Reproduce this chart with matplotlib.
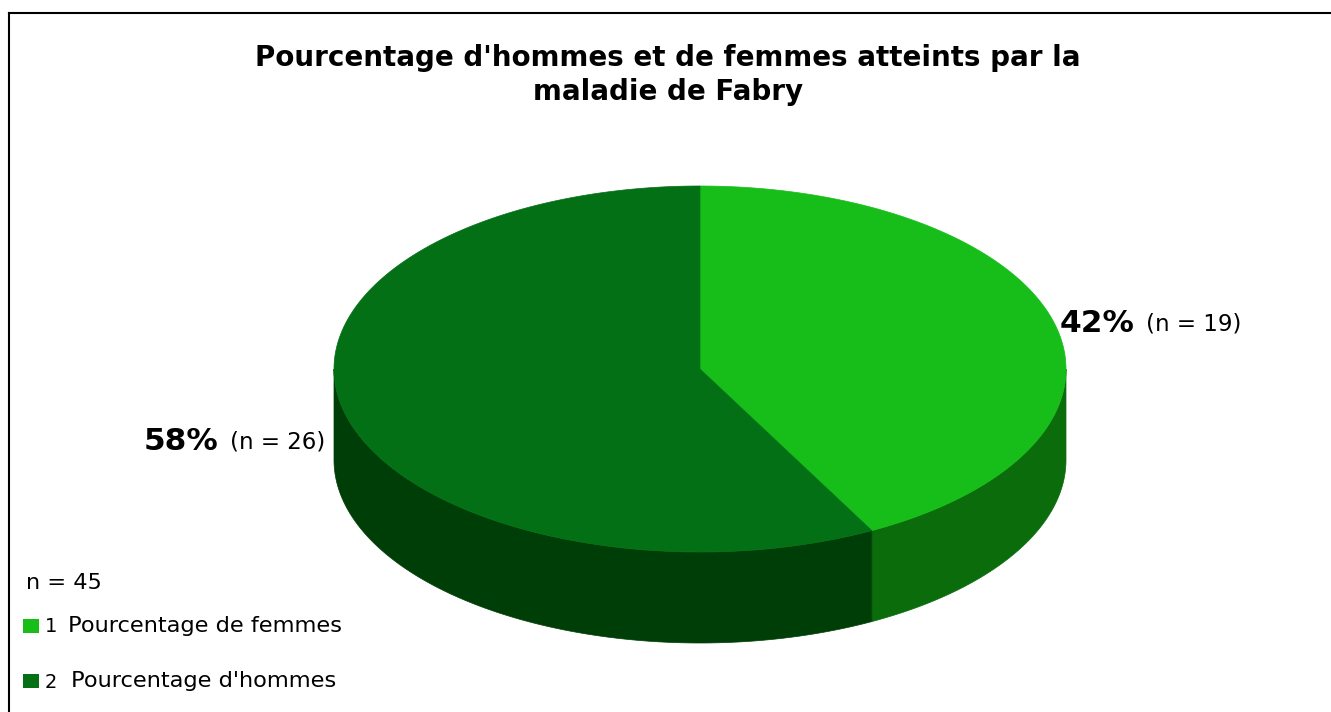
import numpy as np
import matplotlib.pyplot as plt
from matplotlib.patches import Polygon, Rectangle
from matplotlib.lines import Line2D

# Données
categories = ["Pourcentage de femmes", "Pourcentage d'hommes"]
counts = [19, 26]
total = sum(counts)
title = "Pourcentage d'hommes et de femmes atteints par la\nmaladie de Fabry"

top_colors = ["#17be1a", "#037016"]
side_colors = ["#0a6c0a", "#003e08"]

W, H = 1331, 712
fig = plt.figure(figsize=(W / 100, H / 100), dpi=100)
ax = fig.add_axes([0, 0, 1, 1])
ax.set_xlim(0, W)
ax.set_ylim(H, 0)
ax.axis('off')

# Géométrie du camembert 3D (en pixels)
cx, cy, rx, ry, depth = 700, 369, 366, 183, 91


def pt(theta, dy=0.0):
    # theta en degrés, sens horaire depuis midi
    t = np.radians(theta)
    return cx + rx * np.sin(t), cy - ry * np.cos(t) + dy


fracs = np.array(counts) / total
bounds = np.concatenate([[0], np.cumsum(fracs) * 360])

# Parois latérales (partie avant : 90° à 270°)
for i in range(len(counts)):
    a0, a1 = max(bounds[i], 90), min(bounds[i + 1], 270)
    if a1 <= a0:
        continue
    th = np.linspace(a0, a1, 200)
    upper = [pt(t) for t in th]
    lower = [pt(t, depth) for t in th[::-1]]
    ax.add_patch(Polygon(upper + lower, closed=True, facecolor=side_colors[i],
                         edgecolor=side_colors[i], lw=0.5))

# Dessus
for i in range(len(counts)):
    th = np.linspace(bounds[i], bounds[i + 1], 300)
    verts = [(cx, cy)] + [pt(t) for t in th]
    ax.add_patch(Polygon(verts, closed=True, facecolor=top_colors[i],
                         edgecolor=top_colors[i], lw=0.5))

# Étiquettes
fig.canvas.draw()
label_pos = [(1060, 323, 'left'), (218, 441, 'right')]
for i, (x, y, ha) in enumerate(label_pos):
    pct = f"{round(fracs[i] * 100):d}%"
    nstr = f"(n = {counts[i]})"
    if ha == 'left':
        t = ax.text(x, y, pct, fontsize=22.5, fontweight='bold', va='center', ha='left')
        bb = t.get_window_extent(renderer=fig.canvas.get_renderer())
        ax.text(bb.x1 + 11, y + 1, nstr, fontsize=16.5, va='center', ha='left')
    else:
        ax.text(x, y, pct, fontsize=22.5, fontweight='bold', va='center', ha='right')
        ax.text(x + 12, y + 1, nstr, fontsize=16.5, va='center', ha='left')

# Titre
ax.text(668, 75, title, fontsize=20, fontweight='bold', ha='center', va='center',
        linespacing=1.3)

# Légende
ax.text(26, 583, f"n = {total}", fontsize=16.2, va='center', ha='left')
leg_y = [626, 681]
text_x = [68, 71]
for i, lab in enumerate(categories):
    ax.add_patch(Rectangle((23, leg_y[i] - 7), 16, 14, facecolor=top_colors[i], edgecolor='none'))
    ax.text(45, leg_y[i] + 1, str(i + 1), fontsize=14, va='center', ha='left')
    ax.text(text_x[i], leg_y[i], lab, fontsize=16.2, va='center', ha='left')

# Cadre
ax.add_line(Line2D([8.5, W], [13, 13], color='black', lw=1.5))
ax.add_line(Line2D([8.5, 8.5], [13, H], color='black', lw=1.5))

fig.savefig("out.png", dpi=100)
